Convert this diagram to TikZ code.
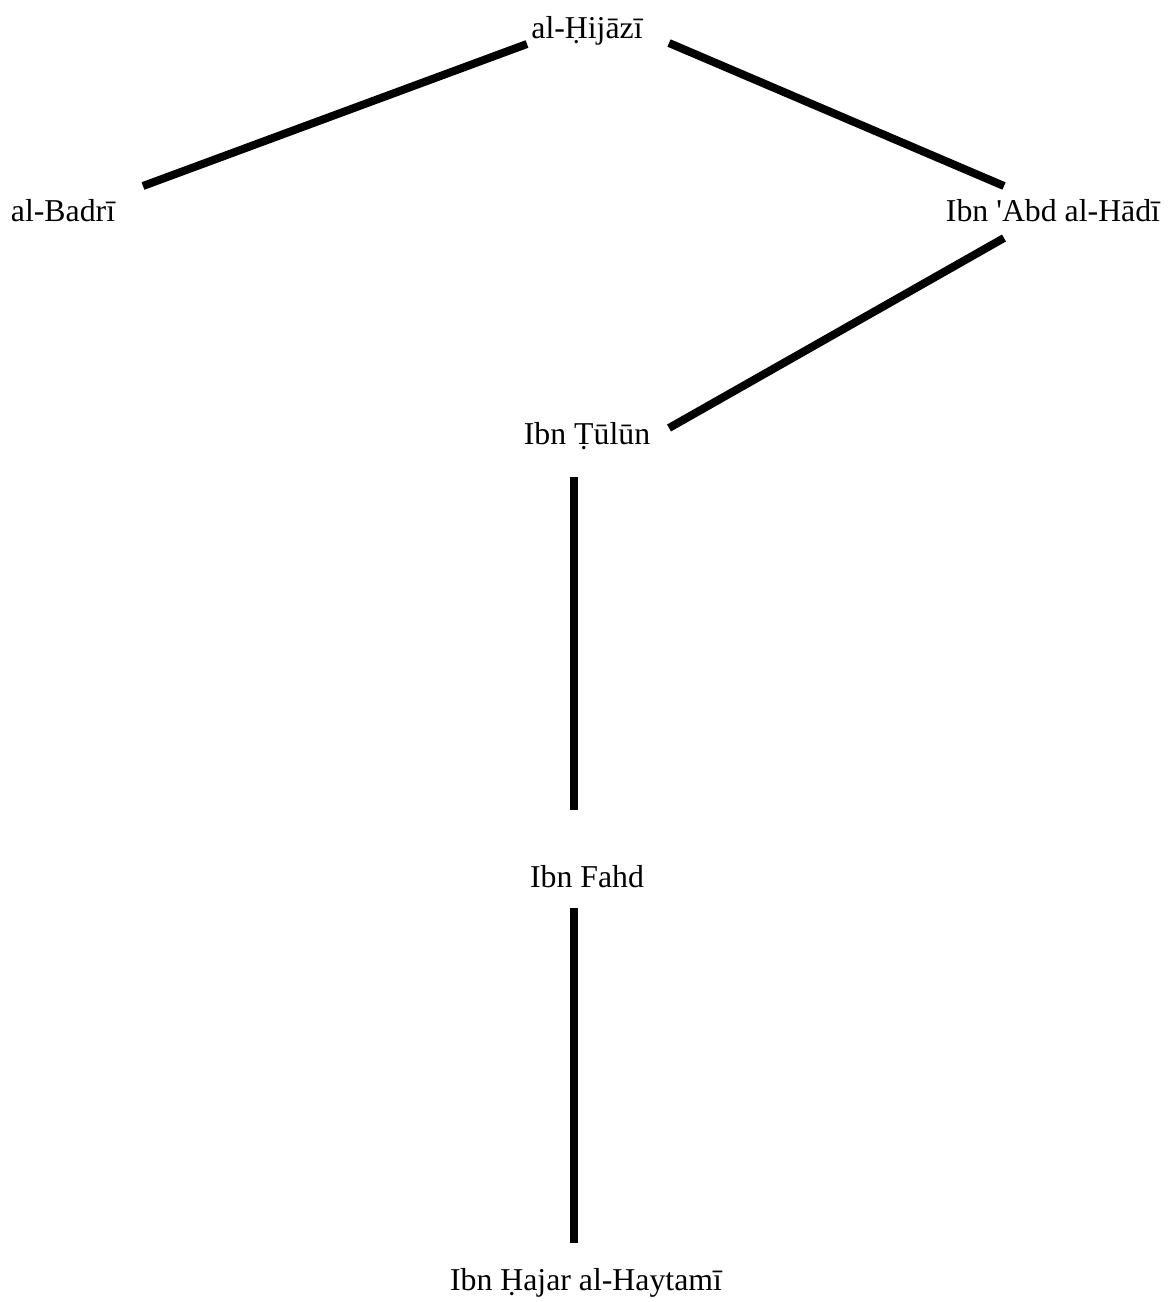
\documentclass[tikz,border=0pt]{standalone}
\usepackage{fontspec}
\newfontfamily\labelfont{Liberation Serif}
\usetikzlibrary{calc}
\tikzset{
  scholar/.style={anchor=base, inner sep=0pt, font=\labelfont\fontsize{15.9}{19}\selectfont},
  link/.style={line width=4pt, line cap=butt}
}
\begin{document}
\begin{tikzpicture}[x=0.5pt, y=-0.5pt]
  \useasboundingbox (0,0) rectangle (1168,1302);
  % scholars
  \node[scholar] (hij) at (587,38) {al-Ḥijāzī};
  \node[scholar] (badri) at (63,221) {al-Badrī};
  \node[scholar] (abd) at (1053,221) {Ibn 'Abd al-Hādī};
  \node[scholar] (tulun) at (587,444) {Ibn Ṭūlūn};
  \node[scholar] (fahd) at (587,887) {Ibn Fahd};
  \node[scholar] (haytami) at (586,1290) {Ibn Ḥajar al-Haytamī};
  % links between them
  \draw[link] ([shift={(-60,6)}]hij.base) -- ([shift={(80,-35)}]badri.base);
  \draw[link] ([shift={(82,5)}]hij.base) -- ([shift={(-49,-35)}]abd.base);
  \draw[link] ([shift={(-49,17)}]abd.base) -- ([shift={(82,-16)}]tulun.base);
  \draw[link] ([shift={(-13.5,33)}]tulun.base) -- ([shift={(-13.5,-77)}]fahd.base);
  \draw[link] ([shift={(-13.5,21)}]fahd.base) -- ([shift={(-12.5,-47)}]haytami.base);
\end{tikzpicture}
\end{document}
